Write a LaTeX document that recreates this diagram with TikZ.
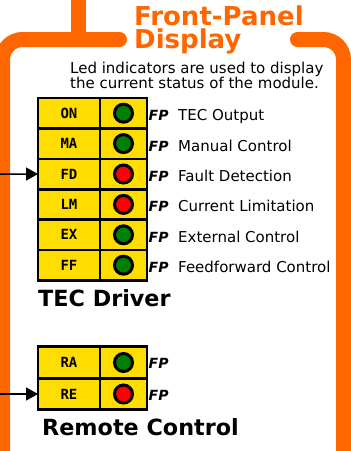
\documentclass[tikz,border=0pt]{standalone}
\usepackage{fontspec}
\setmainfont{DejaVu Sans}
\setmonofont{DejaVu Sans Mono}
\usepackage{tikz}
\usetikzlibrary{arrows.meta,positioning}
\definecolor{panelorange}{HTML}{FF6600}
\definecolor{ledyellow}{HTML}{FFDD00}
\definecolor{ledgreen}{HTML}{008000}
\definecolor{ledred}{HTML}{FF0000}
\tikzset{
  frame/.style   ={draw=panelorange, line width=15pt},
  lblcell/.style ={draw, line width=2.6pt, fill=ledyellow, outer sep=0pt,
                   minimum width=62pt, minimum height=30.4pt, inner sep=0pt,
                   font=\ttfamily\bfseries\fontsize{14}{14}\selectfont},
  ledcell/.style ={draw, line width=2.6pt, fill=ledyellow, outer sep=0pt,
                   minimum width=47pt, minimum height=30.4pt, inner sep=0pt},
  ledon/.style   ={draw, circle, line width=3pt, minimum size=18pt,
                   inner sep=0pt, fill=ledgreen},
  ledoff/.style  ={draw, circle, line width=3pt, minimum size=18pt,
                   inner sep=0pt, fill=ledred},
  fplbl/.style   ={anchor=base west, inner sep=0pt,
                   font=\bfseries\itshape\fontsize{14}{14}\selectfont},
  sigtxt/.style  ={anchor=base west, inner sep=0pt,
                   font=\fontsize{15}{15}\selectfont},
  grpttl/.style  ={anchor=base west, inner sep=0pt,
                   font=\bfseries\fontsize{22.3}{22.3}\selectfont},
  sig/.style     ={-{Triangle[length=12pt,width=13pt]}, line width=1.5pt},
}

\begin{document}
\begin{tikzpicture}[x=1pt, y=-1pt]
  \path[use as bounding box, clip] (0,0) rectangle (351,451);
  % panel frame
  \draw[frame] (78,-10) -- (78,39.5);
  \draw[frame, rounded corners=20pt, line cap=round]
    (2.5,480) -- (2.5,39.5) -- (119.5,39.5);
  \draw[frame, rounded corners=20pt, line cap=round]
    (297.5,39.5) -- (343.5,39.5) -- (343.5,480);
  \node[anchor=base west, inner sep=0pt, align=left, text=panelorange,
        font=\bfseries\fontsize{26}{23}\selectfont] (title) at (134,48)
    {Front-Panel\\Display};
  \node[anchor=base west, inner sep=0pt, align=left,
        font=\fontsize{15}{15}\selectfont] (desc) at (70,88)
    {Led indicators are used to display\\the current status of the module.};

  % TEC driver
  \node[lblcell] (on) at (69,113.2) {ON};
  \node[lblcell, below=0pt of on] (ma) {MA};
  \node[lblcell, below=0pt of ma] (fd) {FD};
  \node[lblcell, below=0pt of fd] (lm) {LM};
  \node[lblcell, below=0pt of lm] (ex) {EX};
  \node[lblcell, below=0pt of ex] (ff) {FF};
  \node[ledcell, right=0pt of on] (onled) {};
  \node[ledcell, right=0pt of ma] (maled) {};
  \node[ledcell, right=0pt of fd] (fdled) {};
  \node[ledcell, right=0pt of lm] (lmled) {};
  \node[ledcell, right=0pt of ex] (exled) {};
  \node[ledcell, right=0pt of ff] (ffled) {};
  \node[ledon]  (onlamp) at (onled) {};
  \node[ledon]  (malamp) at (maled) {};
  \node[ledoff] (fdlamp) at (fdled) {};
  \node[ledoff] (lmlamp) at (lmled) {};
  \node[ledon]  (exlamp) at (exled) {};
  \node[ledon]  (fflamp) at (ffled) {};
  \node[fplbl] (onfp) at ([xshift=1.5pt, yshift=-7.5pt]onled.east) {FP};
  \node[fplbl] (mafp) at ([xshift=1.5pt, yshift=-7.5pt]maled.east) {FP};
  \node[fplbl] (fdfp) at ([xshift=1.5pt, yshift=-7.5pt]fdled.east) {FP};
  \node[fplbl] (lmfp) at ([xshift=1.5pt, yshift=-7.5pt]lmled.east) {FP};
  \node[fplbl] (exfp) at ([xshift=1.5pt, yshift=-7.5pt]exled.east) {FP};
  \node[fplbl] (fffp) at ([xshift=1.5pt, yshift=-7.5pt]ffled.east) {FP};
  \node[sigtxt] (ontxt) at ([xshift=31pt, yshift=-7.5pt]onled.east) {TEC Output};
  \node[sigtxt] (matxt) at ([xshift=31pt, yshift=-7.5pt]maled.east) {Manual Control};
  \node[sigtxt] (fdtxt) at ([xshift=31pt, yshift=-7.5pt]fdled.east) {Fault Detection};
  \node[sigtxt] (lmtxt) at ([xshift=31pt, yshift=-7.5pt]lmled.east) {Current Limitation};
  \node[sigtxt] (extxt) at ([xshift=31pt, yshift=-7.5pt]exled.east) {External Control};
  \node[sigtxt] (fftxt) at ([xshift=31pt, yshift=-7.5pt]ffled.east) {Feedforward Control};
  \node[grpttl] (tecttl) at (38,306) {TEC Driver};
  \coordinate (tecsrc) at (-5,174);
  \draw[sig] (tecsrc) -- (fd.west);

  % remote control
  \node[lblcell, minimum height=31.5pt] (ra) at (69,362.5) {RA};
  \node[lblcell, minimum height=31.5pt, below=0pt of ra] (re) {RE};
  \node[ledcell, minimum height=31.5pt, right=0pt of ra] (raled) {};
  \node[ledcell, minimum height=31.5pt, right=0pt of re] (reled) {};
  \node[ledon]  (ralamp) at (raled) {};
  \node[ledoff] (relamp) at (reled) {};
  \node[fplbl] (rafp) at ([xshift=1.5pt, yshift=-6pt]raled.east) {FP};
  \node[fplbl] (refp) at ([xshift=1.5pt, yshift=-6pt]reled.east) {FP};
  \node[grpttl] (remttl) at (42,435) {Remote Control};
  \coordinate (remsrc) at (-5,394);
  \draw[sig] (remsrc) -- (re.west);
\end{tikzpicture}
\end{document}
